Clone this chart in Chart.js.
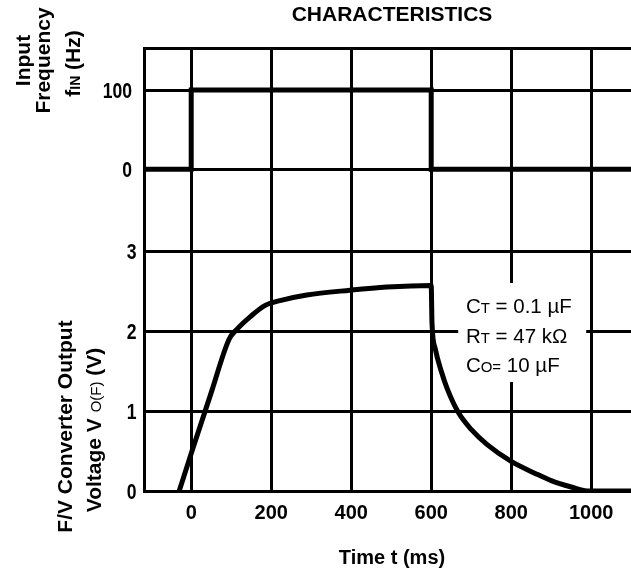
<!DOCTYPE html>
<html><head><meta charset="utf-8">
<script src="https://cdn.jsdelivr.net/npm/chart.js@4.4.0/dist/chart.umd.min.js"></script>
<style>html,body{margin:0;padding:0;background:#fff;overflow:hidden;width:631px;height:573px}
canvas{display:block}</style></head>
<body><canvas id="c" width="640" height="573"></canvas>
<script>
// ---- data ----
const timeTicks = [0, 200, 400, 600, 800, 1000];
const freqTicks = [0, 100];
const voltTicks = [0, 1, 2, 3];
const freqTimes = [-120, 0, 600, 1200];
const freqValues = [0, 100, 0, 0];
const voltTimes = [-30, 0, 50, 95, 114, 148, 185, 222, 289, 397, 489, 600, 602, 610, 625, 640, 668, 700, 740, 800, 860, 900, 950, 990, 1200];
const voltValues = [0, 0.47, 1.23, 1.9, 2.02, 2.18, 2.32, 2.38, 2.45, 2.51, 2.55, 2.57, 2.1, 1.78, 1.5, 1.28, 0.98, 0.77, 0.58, 0.37, 0.22, 0.13, 0.05, 0, 0];
const xRange = [-118, 1122];
const freqRange = [-103, 153];
const voltRange = [0, 3];
const chartTitle = 'CHARACTERISTICS';
const xTitle = 'Time t (ms)';
const noteLines = [['C', 'T', ' = 0.1 µF'], ['R', 'T', ' = 47 kΩ'], ['C', 'O=', ' 10 µF']];

const FAM = "'Liberation Sans', Arial, Helvetica, sans-serif";

function drawParts(ctx, parts, cx, baseY) {
  let total = 0;
  const w = parts.map(p => { ctx.font = p[1]; const m = ctx.measureText(p[0]).width; total += m; return m; });
  let x = cx - total / 2;
  parts.forEach((p, i) => { ctx.font = p[1]; ctx.fillText(p[0], x, baseY); x += w[i]; });
}

// y tick labels: condensed bold digits, placed through the library's scales
const yTickLabels = {
  id: 'yTickLabels',
  afterDraw(chart) {
    const ctx = chart.ctx;
    const sets = [[chart.scales.yF, freqTicks, 12], [chart.scales.yV, voltTicks, 7.5]];
    ctx.save();
    ctx.fillStyle = '#000';
    ctx.font = 'bold 22px ' + FAM;
    ctx.textAlign = 'right';
    ctx.textBaseline = 'middle';
    sets.forEach(([sc, vals, pad]) => {
      vals.forEach(v => {
        const y = sc.getPixelForValue(v) + 2;
        const xr = sc.right - pad;
        ctx.save();
        ctx.translate(xr, y);
        ctx.scale(0.8, 1);
        ctx.fillText(String(v), 0, 0);
        ctx.restore();
      });
    });
    ctx.restore();
  }
};

const axisTitles = {
  id: 'axisTitles',
  afterDraw(chart) {
    const ctx = chart.ctx;
    const B = 'bold 21px ' + FAM, BS = 'bold 14px ' + FAM;
    const V = 'bold 21px ' + FAM, VS = '15px ' + FAM;
    const items = [
      {bx: 29.5, cy: 60.5, parts: [['Input', B]]},
      {bx: 50, cy: 60.5, parts: [['Frequency', B]]},
      {bx: 80, cy: 63.5, parts: [['f', B], ['IN', BS], [' (Hz)', B]]},
      {bx: 72, cy: 426.5, parts: [['F/V Converter Output', V]]},
      {bx: 101, cy: 430, parts: [['Voltage V ', V], ['O(F)', VS], [' (V)', V]]}
    ];
    ctx.save();
    ctx.fillStyle = '#000';
    ctx.textBaseline = 'alphabetic';
    ctx.textAlign = 'left';
    items.forEach(it => {
      ctx.save();
      ctx.translate(it.bx, it.cy);
      ctx.rotate(-Math.PI / 2);
      drawParts(ctx, it.parts, 0, 0);
      ctx.restore();
    });
    ctx.restore();
  }
};

const noteBox = {
  id: 'noteBox',
  beforeDatasetsDraw(chart) {
    const ctx = chart.ctx, xs = chart.scales.x, ys = chart.scales.yV;
    const l = xs.getPixelForValue(667.5), r = xs.getPixelForValue(987.5);
    const t = ys.getPixelForValue(2.6), b = ys.getPixelForValue(1.3625);
    ctx.save();
    ctx.fillStyle = '#fff';
    ctx.fillRect(l, t, r - l, b - t);
    ctx.fillStyle = '#000';
    ctx.textBaseline = 'alphabetic';
    ctx.textAlign = 'left';
    const baseV = [2.229, 1.85, 1.491];
    const tx = xs.getPixelForValue(686.75);
    const fonts = ['20.5px ' + FAM, '15px ' + FAM, '20.5px ' + FAM];
    noteLines.forEach((ln, i) => {
      const y = ys.getPixelForValue(baseV[i]);
      let x = tx;
      ln.forEach((s, j) => { ctx.font = fonts[j]; ctx.fillText(s, x, y); x += ctx.measureText(s).width; });
    });
    ctx.restore();
  }
};

const pts = (xs, ys) => xs.map((v, i) => ({x: v, y: ys[i]}));

new Chart(document.getElementById('c'), {
  type: 'line',
  data: {
    datasets: [
      {label: 'fIN', data: pts(freqTimes, freqValues), yAxisID: 'yF', stepped: 'before',
       borderColor: '#000', borderWidth: 5, pointRadius: 0, fill: false},
      {label: 'VO(F)', data: pts(voltTimes, voltValues), yAxisID: 'yV', cubicInterpolationMode: 'monotone',
       borderColor: '#000', borderWidth: 5, pointRadius: 0, fill: false}
    ]
  },
  options: {
    responsive: false,
    animation: false,
    devicePixelRatio: 1,
    layout: {padding: 0},
    plugins: {
      legend: {display: false},
      tooltip: {enabled: false},
      title: {display: true, text: chartTitle, fullSize: false, color: '#000',
              font: {size: 21, weight: 'bold', family: FAM}, padding: {top: 3, bottom: 19.8}}
    },
    scales: {
      x: {
        type: 'linear', position: 'bottom', min: xRange[0], max: xRange[1],
        afterBuildTicks: s => { s.ticks = timeTicks.map(v => ({value: v})); },
        afterFit: s => { s.height = 82; },
        grid: {color: '#000', lineWidth: 3, drawTicks: false},
        border: {display: true, color: '#000', width: 3},
        ticks: {color: '#000', font: {size: 20, weight: 'bold', family: FAM}, padding: 10, maxRotation: 0, autoSkip: false,
                callback: v => String(v)},
        title: {display: true, text: xTitle, color: '#000', font: {size: 20, weight: 'bold', family: FAM}, padding: {top: 0, bottom: 3}}
      },
      yV: {
        type: 'linear', position: 'left', stack: 'left', stackWeight: 240,
        min: voltRange[0], max: voltRange[1],
        afterBuildTicks: s => { s.ticks = voltTicks.map(v => ({value: v})); },
        afterFit: s => { s.width = 144; },
        grid: {color: '#000', lineWidth: 3, drawTicks: false},
        border: {display: true, color: '#000', width: 3},
        ticks: {display: false}
      },
      yF: {
        type: 'linear', position: 'left', stack: 'left', stackWeight: 203,
        min: freqRange[0], max: freqRange[1],
        afterBuildTicks: s => { s.ticks = freqTicks.concat([freqRange[1]]).map(v => ({value: v})); },
        afterFit: s => { s.width = 144; },
        grid: {color: '#000', lineWidth: 3, drawTicks: false},
        border: {display: true, color: '#000', width: 3},
        ticks: {display: false}
      }
    }
  },
  plugins: [axisTitles, noteBox, yTickLabels]
});
</script>
</body></html>
